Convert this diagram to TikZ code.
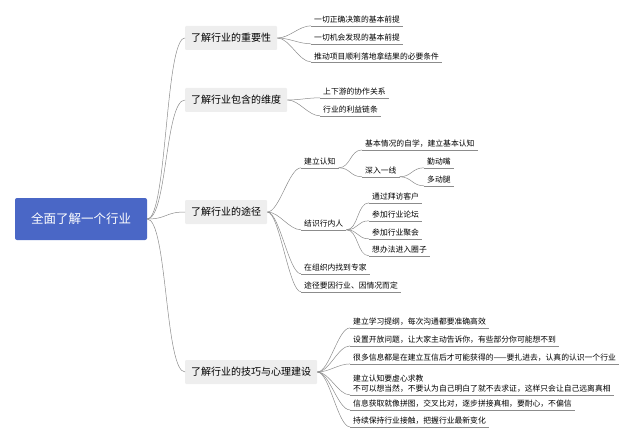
\documentclass[tikz,border=0pt]{standalone}
\usepackage{fontspec}
\setmainfont{Noto Sans CJK SC}
\usetikzlibrary{positioning}
\definecolor{rootblue}{HTML}{4A67C6}
\definecolor{linegray}{HTML}{8C8C8C}
\tikzset{
  root/.style={fill=rootblue,text=white,rounded corners=2pt,minimum width=132pt,minimum height=42pt,font=\fontsize{12.5}{14}\selectfont},
  topic/.style={fill=gray!13,rounded corners=1pt,minimum height=24pt,inner xsep=6pt,anchor=west,font=\fontsize{10}{12}\selectfont},
  leaf/.style={anchor=west,inner xsep=3pt,inner ysep=2pt,font=\fontsize{7.8}{10}\selectfont,
    append after command={(\tikzlastnode.south west) edge[linegray] (\tikzlastnode.south east)}},
  link/.style={draw=linegray,line width=0.5pt}
}
\newcommand{\branch}[2]{\draw[link] (#1) .. controls +(12pt,0) and +(-12pt,0) .. (#2.south west);}
\begin{document}
\begin{tikzpicture}[x=1pt,y=-1pt]
  \useasboundingbox (0,0) rectangle (640,441);
  \node[root] (R) at (81,219) {全面了解一个行业};

  \node[topic] (T1) at (185,38) {了解行业的重要性};
  \node[topic] (T2) at (185,100) {了解行业包含的维度};
  \node[topic] (T3) at (185,212) {了解行业的途径};
  \node[topic] (T4) at (185,372) {了解行业的技巧与心理建设};
  \foreach \t in {T1,T2,T3,T4}
    \draw[link] (R.east) .. controls +(20pt,0) and +(-20pt,0) .. (\t.west);

  % importance
  \node[leaf] (a1) at (311,20) {一切正确决策的基本前提};
  \node[leaf] (a2) at (311,38) {一切机会发现的基本前提};
  \node[leaf] (a3) at (311,56) {推动项目顺利落地拿结果的必要条件};
  \foreach \c in {a1,a2,a3} {\branch{T1.east}{\c}}

  % dimensions
  \node[leaf] (b1) at (320,92) {上下游的协作关系};
  \node[leaf] (b2) at (320,110) {行业的利益链条};
  \foreach \c in {b1,b2} {\branch{T2.east}{\c}}

  % ways
  \node[leaf] (c1) at (301,162) {建立认知};
  \node[leaf] (c2) at (301,224) {结识行内人};
  \node[leaf] (c3) at (301,268) {在组织内找到专家};
  \node[leaf] (c4) at (301,286) {途径要因行业、因情况而定};
  \foreach \c in {c1,c2,c3,c4} {\branch{T3.east}{\c}}

  \node[leaf] (c11) at (362,144) {基本情况的自学，建立基本认知};
  \node[leaf] (c12) at (362,171) {深入一线};
  \foreach \c in {c11,c12} {\branch{c1.south east}{\c}}
  \node[leaf] (c121) at (424,162) {勤动嘴};
  \node[leaf] (c122) at (424,180) {多动腿};
  \foreach \c in {c121,c122} {\branch{c12.south east}{\c}}

  \node[leaf] (c21) at (369,197) {通过拜访客户};
  \node[leaf] (c22) at (369,215) {参加行业论坛};
  \node[leaf] (c23) at (369,233) {参加行业聚会};
  \node[leaf] (c24) at (369,250) {想办法进入圈子};
  \foreach \c in {c21,c22,c23,c24} {\branch{c2.south east}{\c}}

  % skills
  \node[leaf] (d1) at (350,322) {建立学习提纲，每次沟通都要准确高效};
  \node[leaf] (d2) at (350,340) {设置开放问题，让大家主动告诉你，有些部分你可能想不到};
  \node[leaf] (d3) at (350,358) {很多信息都是在建立互信后才可能获得的——要扎进去，认真的认识一个行业};
  \node[leaf,align=left] (d4) at (350,384) {建立认知要虚心求教\\不可以想当然，不要认为自己明白了就不去求证，这样只会让自己远离真相};
  \node[leaf] (d5) at (350,404) {信息获取就像拼图，交叉比对，逐步拼接真相，要耐心，不偏信};
  \node[leaf] (d6) at (350,421) {持续保持行业接触，把握行业最新变化};
  \foreach \c in {d1,d2,d3,d4,d5,d6} {\branch{T4.east}{\c}}
\end{tikzpicture}
\end{document}
